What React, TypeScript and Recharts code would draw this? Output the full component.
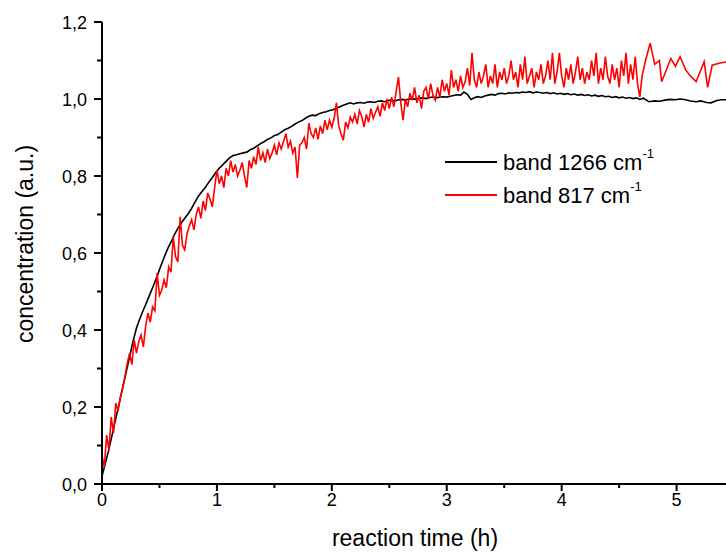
import React from 'react';
import { LineChart, Line, XAxis, YAxis, Legend } from 'recharts';

// band 1266 cm-1: reaction time (h) and concentration
const times1266 = [
  0, 0.03, 0.06, 0.09, 0.12, 0.15, 0.18, 0.21, 0.24, 0.27,
  0.3, 0.33, 0.36, 0.39, 0.42, 0.45, 0.48, 0.51, 0.54, 0.57,
  0.6, 0.63, 0.66, 0.69, 0.72, 0.75, 0.78, 0.81, 0.84, 0.87,
  0.9, 0.93, 0.96, 0.99, 1.02, 1.05, 1.08, 1.11, 1.14, 1.17,
  1.2, 1.23, 1.26, 1.29, 1.32, 1.35, 1.38, 1.41, 1.44, 1.47,
  1.5, 1.53, 1.56, 1.59, 1.62, 1.65, 1.68, 1.71, 1.74, 1.77,
  1.8, 1.83, 1.86, 1.89, 1.92, 1.95, 1.98, 2.01, 2.04, 2.07,
  2.1, 2.13, 2.16, 2.19, 2.22, 2.25, 2.28, 2.31, 2.34, 2.37,
  2.4, 2.43, 2.46, 2.49, 2.52, 2.55, 2.58, 2.61, 2.64, 2.67,
  2.7, 2.73, 2.76, 2.79, 2.82, 2.85, 2.88, 2.91, 2.94, 2.97,
  3.0, 3.03, 3.06, 3.09, 3.12, 3.15, 3.18, 3.21, 3.24, 3.27,
  3.3, 3.33, 3.36, 3.39, 3.42, 3.45, 3.48, 3.51, 3.54, 3.57,
  3.6, 3.63, 3.66, 3.69, 3.72, 3.75, 3.78, 3.81, 3.84, 3.87,
  3.9, 3.93, 3.96, 3.99, 4.02, 4.05, 4.08, 4.11, 4.14, 4.17,
  4.2, 4.23, 4.26, 4.29, 4.32, 4.35, 4.38, 4.41, 4.44, 4.47,
  4.5, 4.53, 4.56, 4.59, 4.62, 4.65, 4.68, 4.71,
  4.76, 4.81, 4.85, 4.9, 4.94, 4.99, 5.03, 5.08, 5.12, 5.17, 5.21, 5.26, 5.3, 5.35, 5.39, 5.43,
];

const band1266 = [
  0.02, 0.055, 0.09, 0.13, 0.17, 0.21, 0.25, 0.29, 0.33, 0.37,
  0.405, 0.43, 0.452, 0.473, 0.495, 0.517, 0.54, 0.565, 0.588, 0.61,
  0.628, 0.648, 0.664, 0.678, 0.69, 0.702, 0.716, 0.733, 0.748, 0.76,
  0.771, 0.784, 0.796, 0.809, 0.82, 0.829, 0.838, 0.847, 0.853, 0.855,
  0.858, 0.86, 0.862, 0.868, 0.872, 0.878, 0.884, 0.889, 0.895, 0.899,
  0.905, 0.908, 0.914, 0.92, 0.924, 0.929, 0.935, 0.94, 0.944, 0.95,
  0.955, 0.958, 0.957, 0.962, 0.965, 0.967, 0.97, 0.972, 0.976, 0.98,
  0.984, 0.987, 0.99, 0.987, 0.99, 0.991, 0.989, 0.992, 0.993, 0.991,
  0.994, 0.995, 0.993, 0.996, 0.997, 0.995, 0.998, 0.999, 0.997, 1.0,
  1.001, 0.999, 1.002, 1.003, 1.001, 1.004, 1.005, 1.003, 1.005, 1.006,
  1.005, 1.007, 1.009, 1.011, 1.01, 1.018, 1.012, 0.999, 1.003, 1.006,
  1.004, 1.008, 1.01, 1.012, 1.01, 1.014, 1.015, 1.013, 1.016, 1.015,
  1.017, 1.016, 1.018, 1.017, 1.019, 1.016, 1.018, 1.017, 1.015, 1.017,
  1.014, 1.016, 1.013, 1.015, 1.012, 1.014, 1.011, 1.013, 1.01, 1.012,
  1.009, 1.011, 1.008, 1.01, 1.007, 1.009, 1.006, 1.007, 1.004, 1.006,
  1.003, 1.005, 1.002, 1.004, 1.001, 1.003, 0.999, 1.002,
  0.993, 0.995, 0.994, 0.997, 0.999, 0.998, 1.0, 0.998, 0.995, 0.993, 0.995, 0.991, 0.99, 0.996, 0.998, 0.998,
];

// band 817 cm-1: denser, noisier record
const times817 = [
  0, 0.02, 0.04, 0.06, 0.08, 0.1, 0.12, 0.14, 0.16, 0.18,
  0.2, 0.22, 0.24, 0.26, 0.28, 0.3, 0.32, 0.34, 0.36, 0.38,
  0.4, 0.42, 0.44, 0.46, 0.48, 0.5, 0.52, 0.54, 0.56, 0.58,
  0.6, 0.62, 0.64, 0.66, 0.68, 0.7, 0.72, 0.74, 0.76, 0.78,
  0.8, 0.82, 0.84, 0.86, 0.88, 0.9, 0.92, 0.94, 0.96, 0.98,
  1.0, 1.02, 1.04, 1.06, 1.08, 1.1, 1.12, 1.14, 1.16, 1.18,
  1.2, 1.22, 1.24, 1.26, 1.28, 1.3, 1.32, 1.34, 1.36, 1.38,
  1.4, 1.42, 1.44, 1.46, 1.48, 1.5, 1.52, 1.54, 1.56, 1.58,
  1.6, 1.62, 1.64, 1.66, 1.68, 1.7, 1.72, 1.74, 1.76, 1.78,
  1.8, 1.82, 1.84, 1.86, 1.88, 1.9, 1.92, 1.94, 1.96, 1.98,
  2.0, 2.02, 2.04, 2.06, 2.08, 2.1, 2.12, 2.14, 2.16, 2.18,
  2.2, 2.22, 2.24, 2.26, 2.28, 2.3, 2.32, 2.34, 2.36, 2.38,
  2.4, 2.42, 2.44, 2.46, 2.48, 2.5, 2.52, 2.54, 2.56, 2.58,
  2.6, 2.62, 2.64, 2.66, 2.68, 2.7, 2.72, 2.74, 2.76, 2.78,
  2.8, 2.82, 2.84, 2.86, 2.88, 2.9, 2.92, 2.94, 2.96, 2.98,
  3.0, 3.02, 3.04, 3.06, 3.08, 3.1, 3.12, 3.14, 3.16, 3.18,
  3.2, 3.22, 3.24, 3.26, 3.28, 3.3, 3.32, 3.34, 3.36, 3.38,
  3.4, 3.42, 3.44, 3.46, 3.48, 3.5, 3.52, 3.54, 3.56, 3.58,
  3.6, 3.62, 3.64, 3.66, 3.68, 3.7, 3.72, 3.74, 3.76, 3.78,
  3.8, 3.82, 3.84, 3.86, 3.88, 3.9, 3.92, 3.94, 3.96, 3.98,
  4.0, 4.02, 4.04, 4.06, 4.08, 4.1, 4.12, 4.14, 4.16, 4.18,
  4.2, 4.22, 4.24, 4.26, 4.28, 4.3, 4.32, 4.34, 4.36, 4.38,
  4.4, 4.42, 4.44, 4.46, 4.48, 4.5, 4.52, 4.54, 4.56, 4.58,
  4.6, 4.62, 4.64, 4.66, 4.68, 4.7,
  4.73, 4.77, 4.81, 4.85, 4.87, 4.95, 4.99, 5.03, 5.08, 5.12, 5.17, 5.24, 5.27, 5.31, 5.37, 5.43,
];

const band817 = [
  0.075, 0.044, 0.127, 0.088, 0.174, 0.132, 0.21, 0.19, 0.226, 0.25,
  0.28, 0.314, 0.34, 0.31, 0.374, 0.34, 0.37, 0.387, 0.356, 0.41,
  0.444, 0.42, 0.46, 0.45, 0.548, 0.49, 0.504, 0.53, 0.51, 0.564,
  0.55, 0.642, 0.59, 0.577, 0.694, 0.62, 0.608, 0.65, 0.67, 0.686,
  0.66, 0.7, 0.72, 0.69, 0.735, 0.71, 0.756, 0.74, 0.72, 0.77,
  0.815, 0.78, 0.8, 0.77, 0.82, 0.8, 0.84, 0.81, 0.83, 0.8,
  0.815, 0.835, 0.8, 0.77, 0.84, 0.82, 0.85, 0.83, 0.875, 0.84,
  0.86, 0.835, 0.87, 0.845, 0.86, 0.88, 0.855, 0.886, 0.87, 0.89,
  0.91, 0.875, 0.89, 0.86, 0.875, 0.795, 0.88, 0.886, 0.9, 0.87,
  0.937, 0.91, 0.9, 0.925, 0.895, 0.93, 0.91, 0.945, 0.92, 0.945,
  0.927, 0.95, 0.99, 0.93, 0.91, 0.893, 0.94, 0.925, 0.953, 0.94,
  0.96, 0.935, 0.97, 0.955, 0.927, 0.96, 0.94, 0.975, 0.95, 0.965,
  0.98, 0.955, 0.99, 0.97, 1.0, 0.975, 1.005, 0.98, 1.02, 1.057,
  0.99, 0.945, 1.0, 0.98, 1.015, 0.997, 1.03, 0.99, 1.01, 0.975,
  1.02, 1.03, 1.0, 1.04, 1.01, 0.997, 1.03, 1.005, 1.05, 1.02,
  1.04, 1.01, 1.075, 1.03, 1.05, 1.02, 1.06, 1.03, 1.045, 1.08,
  1.035, 1.12, 1.05, 1.03, 1.07, 1.04, 1.06, 1.09, 1.03, 1.06,
  1.04, 1.09, 1.03, 1.07, 1.05, 1.08, 1.04, 1.06, 1.1, 1.05,
  1.07, 1.03, 1.09, 1.05, 1.11, 1.04, 1.06, 1.08, 1.03, 1.07,
  1.05, 1.09, 1.04, 1.06, 1.1, 1.05, 1.12, 1.04, 1.07, 1.12,
  1.06, 1.03, 1.08, 1.05, 1.09, 1.04, 1.07, 1.11, 1.05, 1.08,
  1.04, 1.07, 1.05, 1.1, 1.06, 1.12, 1.04, 1.08, 1.05, 1.11,
  1.06, 1.04, 1.09, 1.05, 1.08, 1.03, 1.1, 1.06, 1.12, 1.04,
  1.09, 1.05, 1.11, 1.04, 1.005, 1.06,
  1.1, 1.145, 1.09, 1.1, 1.045, 1.105, 1.085, 1.11, 1.075, 1.06, 1.045, 1.097, 1.03, 1.088, 1.093, 1.096,
];

const xTicks = [0, 0.5, 1, 1.5, 2, 2.5, 3, 3.5, 4, 4.5, 5];
const yTicks = [0, 0.1, 0.2, 0.3, 0.4, 0.5, 0.6, 0.7, 0.8, 0.9, 1.0, 1.1, 1.2];

const FONT = '"Liberation Sans", Arial, Helvetica, sans-serif';

const data1266 = times1266.map((t, i) => ({ t, value: band1266[i] }));
const data817 = times817.map((t, i) => ({ t, value: band817[i] }));

const XTick = (props: any) => {
  const { x, y, payload } = props;
  const major = Number.isInteger(payload.value);
  return (
    <g>
      <line x1={x} x2={x} y1={y} y2={y + (major ? 7 : 4)} stroke="#000" strokeWidth={2} />
      {major && (
        <text x={x} y={y + 22} textAnchor="middle" fontSize={18} fontFamily={FONT} fill="#000">
          {payload.value}
        </text>
      )}
    </g>
  );
};

const YTick = (props: any) => {
  const { x, y, payload } = props;
  const major = Math.round(payload.value * 10) % 2 === 0;
  return (
    <g>
      <line x1={x - (major ? 8 : 5)} x2={x} y1={y} y2={y} stroke="#000" strokeWidth={2} />
      {major && (
        <text x={x - 15} y={y + 6.5} textAnchor="end" fontSize={18} fontFamily={FONT} fill="#000">
          {payload.value.toFixed(1).replace('.', ',')}
        </text>
      )}
    </g>
  );
};

const XTitle = (props: any) => {
  const { x, y, width } = props.viewBox;
  return (
    <text x={x + width / 2 + 1} y={y + 62} textAnchor="middle" fontSize={23} fontFamily={FONT} fill="#000">
      reaction time (h)
    </text>
  );
};

const YTitle = (props: any) => {
  const { y, height } = props.viewBox;
  const cx = 25;
  const cy = y + height / 2 - 9;
  return (
    <text
      x={cx}
      y={cy}
      transform={`rotate(-90 ${cx} ${cy})`}
      textAnchor="middle"
      fontSize={23}
      fontFamily={FONT}
      fill="#000"
    >
      concentration (a.u.)
    </text>
  );
};

const legendItems = [
  { label: 'band 1266 cm', color: '#000000' },
  { label: 'band 817 cm', color: '#ff0000' },
];

const BandLegend = () => (
  <svg width={260} height={70} style={{ overflow: 'visible' }}>
    {legendItems.map((item, i) => (
      <g key={item.label}>
        <line x1={0} x2={52} y1={14 + i * 33} y2={14 + i * 33} stroke={item.color} strokeWidth={2} />
        <text x={58} y={22 + i * 33} fontSize={22} fontFamily={FONT} fill="#000">
          {item.label}
          <tspan fontSize={13} dy={-12}>-1</tspan>
        </text>
      </g>
    ))}
  </svg>
);

export default function App() {
  return (
    <div style={{ width: 726, height: 556, overflow: 'hidden', position: 'relative' }}>
      <style>{'html, body { margin: 0; padding: 0; overflow: hidden; }'}</style>
      <div style={{ position: 'absolute', left: 8, top: 8, width: 718, height: 548 }}>
        <LineChart width={718} height={548} margin={{ top: 14, right: 0, bottom: 0, left: 0 }}>
          <XAxis
            dataKey="t"
            type="number"
            domain={[0, 5.43]}
            ticks={xTicks}
            interval={0}
            allowDataOverflow
            height={72}
            tickSize={0}
            tickMargin={0}
            tickLine={false}
            tick={<XTick />}
            axisLine={{ stroke: '#000', strokeWidth: 2 }}
            label={<XTitle />}
          />
          <YAxis
            type="number"
            domain={[0, 1.2]}
            ticks={yTicks}
            interval={0}
            allowDataOverflow
            width={94}
            tickSize={0}
            tickMargin={0}
            tickLine={false}
            tick={<YTick />}
            axisLine={{ stroke: '#000', strokeWidth: 2 }}
            label={<YTitle />}
          />
          <Legend
            layout="vertical"
            align="center"
            verticalAlign="middle"
            wrapperStyle={{ left: 437, top: 140, width: 260, height: 70 }}
            content={() => <BandLegend />}
          />
          <Line
            data={data1266}
            type="linear"
            dataKey="value"
            name="band 1266"
            stroke="#000000"
            strokeWidth={1.6}
            dot={false}
            isAnimationActive={false}
          />
          <Line
            data={data817}
            type="linear"
            dataKey="value"
            name="band 817"
            stroke="#ff0000"
            strokeWidth={1.6}
            dot={false}
            isAnimationActive={false}
          />
        </LineChart>
      </div>
    </div>
  );
}
